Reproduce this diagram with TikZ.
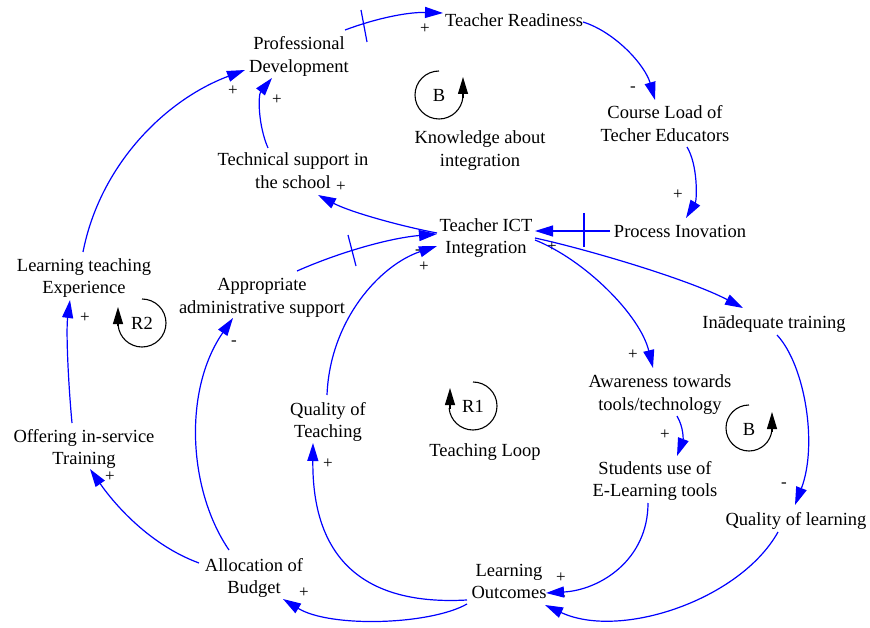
\documentclass[tikz,border=0pt]{standalone}
\usepackage{fontspec}
\setmainfont{Liberation Serif}
\usetikzlibrary{arrows.meta,calc}
\begin{document}
\begin{tikzpicture}[x=1pt,y=-1pt,
  var/.style={align=center,inner sep=0pt,font=\fontsize{18.5}{22.5}\selectfont},
  pol/.style={inner sep=0pt,font=\fontsize{17}{20}\selectfont},
  link/.style={draw=blue,line width=1.2pt,-{Triangle[length=18pt,width=11pt]}},
  delay/.style={draw=blue,line width=1.2pt},
  loopline/.style={draw=black,line width=1.1pt},
  looptip/.style={draw=black,line width=1.1pt,-{Triangle[length=17pt,width=10pt]}},
  looplbl/.style={inner sep=0pt,font=\fontsize{18.5}{22.5}\selectfont}]
\useasboundingbox (0,0) rectangle (870,628);

% variables
\node[var] (TR) at (514,22.5) {\strut Teacher Readiness};
\node[var] (PD) at (299,56.5) {\strut Professional\\\strut Development};
\node[var] (KN) at (480,150.5) {\strut Knowledge about\\\strut integration};
\node[var] (CL) at (665,125.5) {\strut Course Load of\\\strut Techer Educators};
\node[var] (PI) at (680,233.5) {\strut Process Inovation};
\node[var] (TS) at (293,172.5) {\strut Technical support in\\\strut the school};
\node[var] (ICT) at (486,238) {\strut Teacher ICT\\\strut Integration};
\node[var] (LT) at (84,278) {\strut Learning teaching\\\strut Experience};
\node[var] (AA) at (262,297.5) {\strut Appropriate\\\strut administrative support};
\node[var] (IT) at (774,323.5) {\strut Inādequate training};
\node[var] (AW) at (660,394.5) {\strut Awareness towards\\\strut tools/technology};
\node[var] (QT) at (328,422) {\strut Quality of\\\strut Teaching};
\node[var] (TL) at (485,451.5) {\strut Teaching Loop};
\node[var] (OT) at (84,449) {\strut Offering in-service\\\strut Training};
\node[var] (SU) at (655,481) {\strut Students use of\\\strut E-Learning tools};
\node[var] (QL) at (796,520.5) {\strut Quality of learning};
\node[var] (AB) at (254,578) {\strut Allocation of\\\strut Budget};
\node[var] (LO) at (509,583) {\strut Learning\\\strut Outcomes};

% loop labels
\node[looplbl] (B1) at (439,95) {B};
\node[looplbl] (R2) at (142,323) {R2};
\node[looplbl] (R1) at (473,406) {R1};
\node[looplbl] (B2) at (749,429) {B};

% loop symbols
\draw[loopline] ($(B1)+(0,-24)$) arc[start angle=90,end angle=355,radius=24pt];
\draw[looptip] ($(B1)+(24,3)$) -- ($(B1)+(24,-18)$);
\draw[loopline] ($(R2)+(0,-24)$) arc[start angle=90,end angle=-175,radius=24pt];
\draw[looptip] ($(R2)+(-24,3)$) -- ($(R2)+(-24,-16)$);
\draw[loopline] ($(R1)+(0,-24)$) arc[start angle=90,end angle=-175,radius=24pt];
\draw[looptip] ($(R1)+(-23,3)$) -- ($(R1)+(-23,-18)$);
\draw[loopline] ($(B2)+(0,-24)$) arc[start angle=90,end angle=355,radius=23pt];
\draw[looptip] ($(B2)+(23,3)$) -- ($(B2)+(23,-17)$);

% polarity labels
\node[pol] (s1) at (425,29) {+};
\node[pol] (s2) at (633,89) {-};
\node[pol] (s3) at (678,195) {+};
\node[pol] (s5) at (341,187) {+};
\node[pol] (s6) at (277,100) {+};
\node[pol] (s7) at (233,91) {+};
\node[pol] (s8) at (85,318) {+};
\node[pol] (s9) at (110,477) {+};
\node[pol] (s10) at (234,343) {-};
\node[pol] (s11) at (418,252) {-};
\node[pol] (s12) at (424,267) {+};
\node[pol] (s13) at (328,464) {+};
\node[pol] (s14) at (304,593) {+};
\node[pol] (s15) at (633,355) {+};
\node[pol] (s16) at (552,247) {+};
\node[pol] (s17) at (665,435) {+};
\node[pol] (s18) at (561,578) {+};
\node[pol] (s19) at (784,485) {-};
\node[pol] (s20) at (563,598) {-};

% links
\draw[link] ($(PD)+(46,-26.5)$) .. controls +(35,-13) and +(-33,-1) .. ($(TR)+(-71,-9.5)$);
\draw[delay] ($(PD)+(62,-46.5)$) -- ($(PD)+(68,-14.5)$);
\draw[link] ($(TR)+(69,-0.5)$) .. controls +(32,10) and +(-10,-35) .. ($(CL)+(-10,-25.5)$);
\draw[link] ($(CL)+(22,21.5)$) .. controls +(11,18) and +(11,-18) .. ($(PI)+(6,-15.5)$);
\draw[link] ($(PI)+(-70,-2.5)$) -- ($(ICT)+(49,-7)$);
\draw[delay] ($(PI)+(-96,-20.5)$) -- ($(PI)+(-96,13.5)$);
\draw[link] ($(ICT)+(-49,-5)$) .. controls +(-37,-7) and +(32,17) .. ($(TS)+(25,22.5)$);
\draw[link] ($(TS)+(-25,-24.5)$) .. controls +(-10,-23) and +(-14,17) .. ($(PD)+(-27,21.5)$);
\draw[link] ($(LT)+(-1,-26)$) .. controls +(17,-87) and +(-80,30) .. ($(PD)+(-54,13.5)$);
\draw[link] ($(OT)+(-12,-26)$) .. controls +(-4,-43) and +(-4,30) .. ($(LT)+(-14,22)$);
\draw[link] ($(AB)+(-55,-15)$) .. controls +(-49,-18) and +(25,36) .. ($(OT)+(6,20)$);
\draw[link] ($(AB)+(-25,-28)$) .. controls +(-41,-60) and +(-50,72) .. ($(AA)+(-29,20.5)$);
\draw[link] ($(AA)+(35,-26.5)$) .. controls +(43,-19) and +(-47,4) .. ($(ICT)+(-49,-4)$);
\draw[delay] ($(AA)+(86,-62.5)$) -- ($(AA)+(94,-31.5)$);
\draw[link] ($(QT)+(-1,-27)$) .. controls +(3,-75) and +(-57,19) .. ($(ICT)+(-49,8)$);
\draw[link] ($(LO)+(-42,17)$) .. controls +(-107,6) and +(-1,112) .. ($(QT)+(-15,21)$);
\draw[link] ($(LO)+(-42,21)$) .. controls +(-37,21) and +(47,29) .. ($(AB)+(29,21)$);
\draw[link] ($(ICT)+(49,2)$) .. controls +(50,20) and +(-13,-53) .. ($(AW)+(-7,-26.5)$);
\draw[link] ($(ICT)+(49,0)$) .. controls +(55,12) and +(-53,-28) .. ($(IT)+(-31,-15.5)$);
\draw[link] ($(AW)+(17,21.5)$) .. controls +(7,12) and +(6,-16) .. ($(SU)+(22,-25)$);
\draw[link] ($(SU)+(-7,22)$) .. controls +(0,57) and +(54,-3) .. ($(LO)+(37,10)$);
\draw[link] ($(IT)+(3,11.5)$) .. controls +(28,30) and +(23,-60) .. ($(QL)+(-1,-15.5)$);
\draw[link] ($(QL)+(-18,11.5)$) .. controls +(-38,68) and +(75,35) .. ($(LO)+(36,22)$);
\end{tikzpicture}
\end{document}
